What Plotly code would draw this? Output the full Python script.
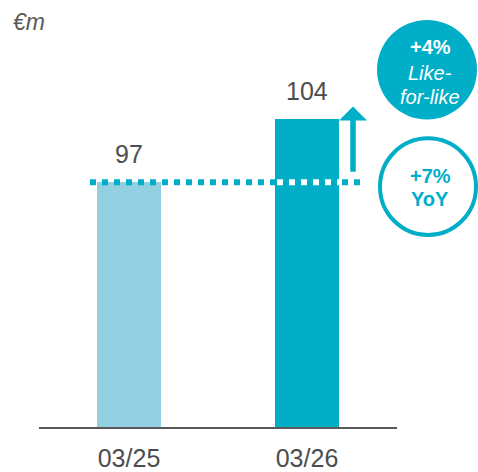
import plotly.graph_objects as go

# ---- data ----
periods = ["03/25", "03/26"]
revenue = [97, 104]
bar_colors = ["#92D0E1", "#00AEC7"]
unit_label = "€m"
lfl_label = ["+4%", "Like-", "for-like"]
yoy_label = ["+7%", "YoY"]

TEAL = "#00AEC7"
GREY = "#4D4D4D"
FONT = "Liberation Sans, Arial, sans-serif"

W, H = 478, 472
B = 42                      # bottom margin (axis line at y=430 px)
PLOT_H = H - B
PX_PER_UNIT = 9.0
Y0 = 69.56                  # value at axis baseline
Y1 = Y0 + PLOT_H / PX_PER_UNIT
X_PX0, X_PX_PER = 129.0, 178.0   # pixel of category 0, px per category step
X0 = -X_PX0 / X_PX_PER
X1 = X0 + W / X_PX_PER

def xd(px):
    return (px - X_PX0) / X_PX_PER

def yd(py):
    return Y0 + (PLOT_H - py) / PX_PER_UNIT

xs = list(range(len(periods)))

fig = go.Figure()
fig.add_trace(go.Bar(
    x=xs, y=revenue, width=0.36,
    marker=dict(color=bar_colors, line=dict(width=0)),
    hoverinfo="skip",
))

shapes = []
# axis line
shapes.append(dict(type="line", xref="x", yref="paper", x0=xd(39), x1=xd(397), y0=0, y1=0,
                   line=dict(color="#595959", width=2), layer="above"))
# dotted reference line at prior-year level
shapes.append(dict(type="line", xref="x", yref="y", x0=xd(90), x1=xd(361), y0=revenue[0], y1=revenue[0],
                   line=dict(color=TEAL, width=6, dash="6px,6px"), layer="above"))
shapes.append(dict(type="line", xref="x", yref="y", x0=xd(277), x1=xd(339), y0=revenue[0], y1=revenue[0],
                   line=dict(color="white", width=6, dash="6px,6px"), layer="above"))
# filled circle (like-for-like)
shapes.append(dict(type="circle", xref="x", yref="y", x0=xd(377), x1=xd(477), y0=yd(120), y1=yd(20),
                   fillcolor=TEAL, line=dict(width=0), layer="above"))
# outline circle (YoY)
shapes.append(dict(type="circle", xref="x", yref="y", x0=xd(380), x1=xd(476), y0=yd(236), y1=yd(139),
                   fillcolor="rgba(0,0,0,0)", line=dict(color=TEAL, width=4), layer="above"))

ann = []
# value labels
for i, v in enumerate(revenue):
    ann.append(dict(x=i, y=v, xref="x", yref="y", text=str(v), showarrow=False,
                    yanchor="bottom", yshift=12, font=dict(size=25, color=GREY, family=FONT)))
# unit label
ann.append(dict(x=xd(29), y=yd(22), xref="x", yref="y", text="<i>" + unit_label + "</i>",
                showarrow=False, font=dict(size=23, color="#595959", family=FONT)))
# growth arrow
ann.append(dict(x=xd(353), y=yd(107), ax=xd(353), ay=yd(174), xref="x", yref="y", axref="x", ayref="y",
                text="", showarrow=True, arrowhead=1, arrowwidth=5.5, arrowsize=0.85, arrowcolor=TEAL,
                standoff=0, startstandoff=0))
# circle texts
lfl_y = [47, 73, 97]
for t, py, j in zip(lfl_label, lfl_y, range(3)):
    txt = "<b>" + t + "</b>" if j == 0 else "<i>" + t + "</i>"
    ann.append(dict(x=xd(430), y=yd(py), xref="x", yref="y", text=txt, showarrow=False,
                    font=dict(size=20, color="white", family=FONT)))
yoy_y = [177, 200]
for t, py in zip(yoy_label, yoy_y):
    ann.append(dict(x=xd(430), y=yd(py), xref="x", yref="y", text="<b>" + t + "</b>", showarrow=False,
                    font=dict(size=20, color=TEAL, family=FONT)))

fig.update_layout(
    width=W, height=H, margin=dict(l=0, r=0, t=0, b=B),
    paper_bgcolor="white", plot_bgcolor="white", showlegend=False,
    shapes=shapes, annotations=ann, bargap=0,
    xaxis=dict(range=[X0, X1], tickvals=xs, ticktext=periods, showgrid=False, zeroline=False,
               showline=False, ticks="outside", ticklen=8, tickcolor="rgba(0,0,0,0)",
               tickfont=dict(size=25, color=GREY, family=FONT), fixedrange=True),
    yaxis=dict(range=[Y0, Y1], visible=False, fixedrange=True),
    font=dict(family=FONT),
)

fig.write_html("out.html")
